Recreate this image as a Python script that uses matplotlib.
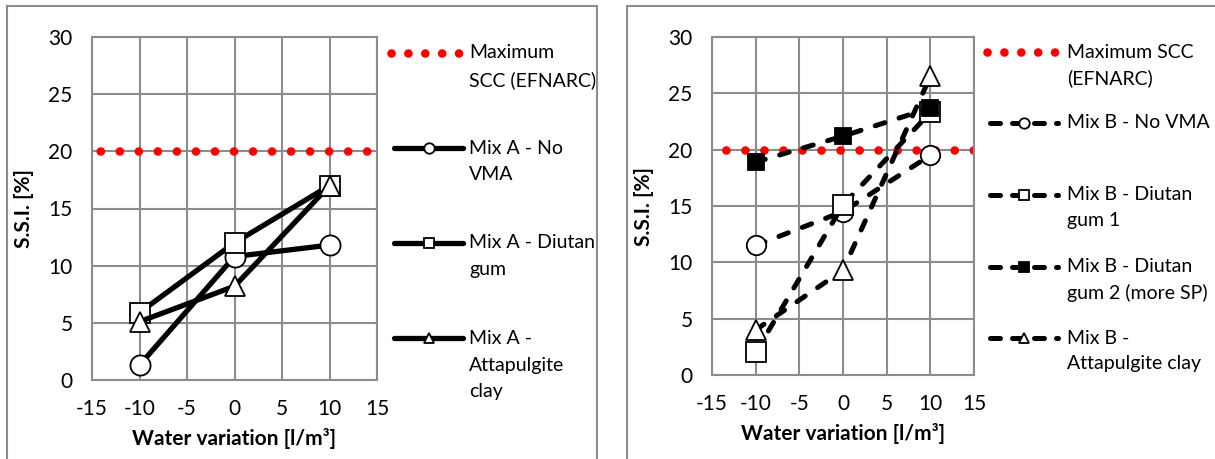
import matplotlib
matplotlib.use("Agg")
import matplotlib.pyplot as plt
from matplotlib.lines import Line2D
from matplotlib.patches import Rectangle

plt.rcParams['font.family'] = ['Lato', 'DejaVu Sans']
plt.rcParams['axes.unicode_minus'] = False

# data
water = [-10, 0, 10]
scc_x = [-15, 15]
scc_max = [20, 20]

mixA_no_vma = [1.3, 10.8, 11.8]
mixA_diutan = [5.9, 12.0, 17.0]
mixA_attapulgite = [5.1, 8.2, 17.0]

mixB_no_vma = [11.5, 14.5, 19.5]
mixB_diutan1 = [2.0, 15.1, 23.3]
mixB_diutan2 = [18.9, 21.2, 23.7]
mixB_attapulgite = [4.0, 9.3, 26.5]

x_ticks = [-15, -10, -5, 0, 5, 10, 15]
y_ticks = [0, 5, 10, 15, 20, 25, 30]

labels_a = ["Maximum\nSCC (EFNARC)", "Mix A - No\nVMA", "Mix A - Diutan\ngum", "Mix A -\nAttapulgite\nclay"]
labels_b = ["Maximum SCC\n(EFNARC)", "Mix B - No VMA", "Mix B - Diutan\ngum 1",
            "Mix B - Diutan\ngum 2 (more SP)", "Mix B -\nAttapulgite clay"]

W, H = 1215, 459
GRID = "#8c8c8c"


def fx(x):
    return x / W


def fy(y):
    return 1 - y / H


def red_style(offset):
    # round-capped zero length dashes -> red dots
    return dict(color="red", lw=6.2, linestyle=(offset, (0.01, 2.2)), dash_capstyle="round")


solid = dict(color="black", lw=3.8, solid_capstyle="round", solid_joinstyle="round")
dashed = dict(color="black", lw=3.6, linestyle=(0, (2.0, 3.0)), dash_capstyle="round")


def mk(marker, size, face="white"):
    return dict(marker=marker, markersize=size, markerfacecolor=face,
                markeredgecolor="black", markeredgewidth=1.3)


def style_axes(ax):
    ax.set_xlim(-15, 15)
    ax.set_ylim(0, 30)
    ax.set_xticks(x_ticks)
    ax.set_yticks(y_ticks)
    ax.grid(True, color=GRID, lw=1.5)
    ax.set_axisbelow(True)
    for s in ax.spines.values():
        s.set_color(GRID)
        s.set_linewidth(1.5)
    ax.tick_params(length=0, labelsize=15, pad=14)
    ax.set_xlabel("Water variation [l/m³]", fontsize=15, fontweight="bold", labelpad=6)
    ax.set_ylabel("S.S.I. [%]", fontsize=15, fontweight="bold", labelpad=10)


def legend_entry(fig, x0, x1, y, style, marker_kw, label, line_gap, text_x):
    if marker_kw:
        xs = [fx(x0), fx((x0 + x1) / 2), fx(x1)]
        fig.add_artist(Line2D(xs, [fy(y)] * 3, transform=fig.transFigure, markevery=[1],
                              **style, **marker_kw))
    else:
        # dotted sample: 5 dots, last one just short of the text
        fig.add_artist(Line2D([fx(x0 - 3), fx(x0 + 69)], [fy(y)] * 2, transform=fig.transFigure, **style))
    for i, line in enumerate(label.split("\n")):
        fig.text(fx(text_x), fy(y + i * line_gap), line, fontsize=14, va="center")


fig = plt.figure(figsize=(W / 100, H / 100), dpi=100)

# outer chart borders
fig.add_artist(Rectangle((fx(7), fy(480)), fx(590), fy(6) - fy(480), transform=fig.transFigure,
                         fill=False, edgecolor=GRID, lw=1.5))
fig.add_artist(Rectangle((fx(627), fy(480)), fx(620), fy(6) - fy(480), transform=fig.transFigure,
                         fill=False, edgecolor=GRID, lw=1.5))

# left panel - Mix A
ax1 = fig.add_axes([fx(92), fy(380), 285 / W, 343 / H])
ax1.plot(scc_x, scc_max, **red_style(1.25))
ax1.plot(water, mixA_no_vma, **solid, **mk("o", 14.5))
ax1.plot(water, mixA_diutan, **solid, **mk("s", 14))
ax1.plot(water, mixA_attapulgite, **solid, **mk("^", 15))
style_axes(ax1)

# right panel - Mix B
ax2 = fig.add_axes([fx(712), fy(375), 262 / W, 338 / H])
ax2.plot(scc_x, scc_max, **red_style(0.6))
ax2.plot(water, mixB_no_vma, **dashed, **mk("o", 14))
ax2.plot(water, mixB_diutan1, **dashed, **mk("s", 14.5))
ax2.plot(water, mixB_diutan2, **dashed, **mk("s", 11.5, face="black"))
ax2.plot(water, mixB_attapulgite, **dashed, **mk("^", 15))
style_axes(ax2)

# legends drawn by hand so the sample line sits on the first text line
red_leg = dict(color="red", lw=6.2, linestyle=(0, (0.01, 1.95)), dash_capstyle="round")
leg_a_styles = [(red_leg, {}), (solid, mk("o", 7.5)), (solid, mk("s", 7.5)), (solid, mk("^", 7.5))]
for (st, mkw), lab, y in zip(leg_a_styles, labels_a, [53, 148, 243, 338]):
    legend_entry(fig, 394, 463, y, st, mkw, lab, 27, 469)

dash_leg = dict(color="black", lw=3.6, linestyle=(0, (2.0, 2.4)), dash_capstyle="round")
leg_b_styles = [(red_leg, {}), (dash_leg, mk("o", 7.5)), (dash_leg, mk("s", 7.5)),
                (dash_leg, mk("s", 7.5, face="black")), (dash_leg, mk("^", 7.5))]
for (st, mkw), lab, y in zip(leg_b_styles, labels_b, [52, 123, 195, 267, 338]):
    legend_entry(fig, 990, 1058, y, st, mkw, lab, 26, 1067)

fig.savefig("out.png", dpi=100)
